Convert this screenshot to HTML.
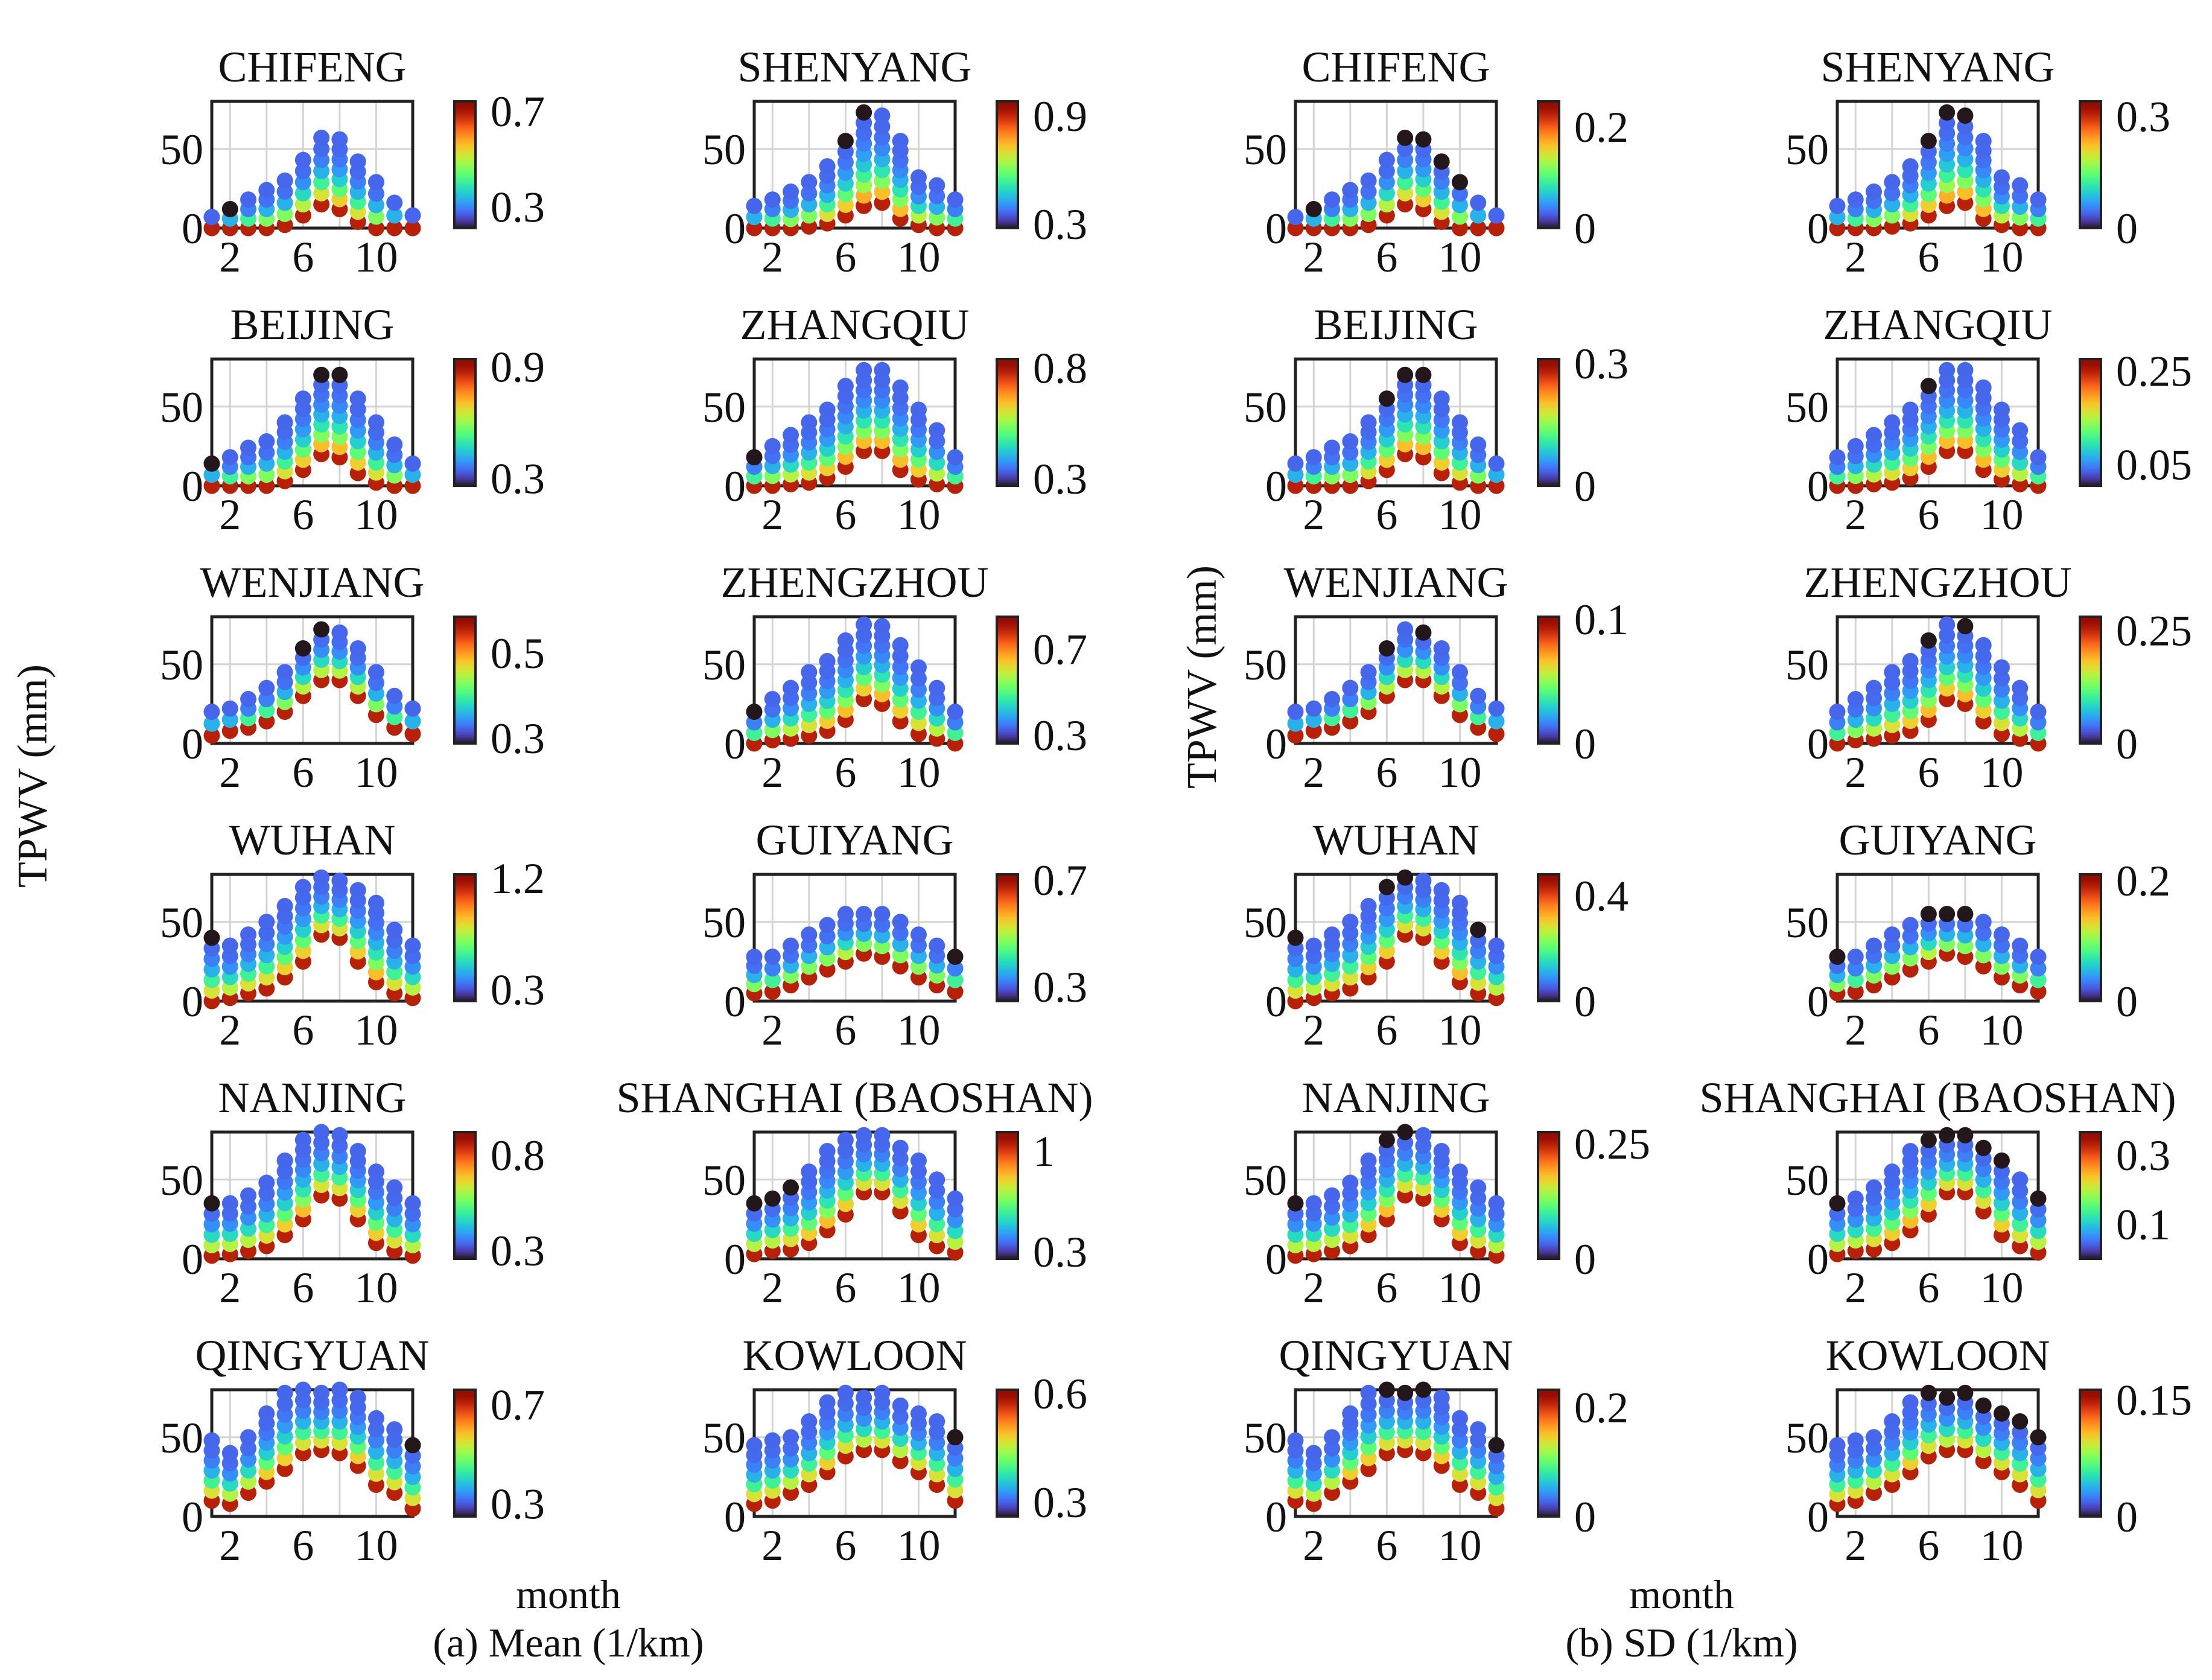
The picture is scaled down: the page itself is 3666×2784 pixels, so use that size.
<!DOCTYPE html>
<html><head><meta charset="utf-8"><style>
html,body{margin:0;padding:0;background:#fff}
svg{display:block}
text{font-family:"Liberation Serif",serif;fill:#111}
</style></head><body>
<svg id="fig" width="3666" height="2784" viewBox="0 0 3666 2784" xmlns="http://www.w3.org/2000/svg">
<g id="panels"></g>
<text x="77" y="1286" font-size="70" text-anchor="middle" transform="rotate(-90 77 1286)">TPWV (mm)</text>
<text x="2015" y="1122" font-size="70" text-anchor="middle" transform="rotate(-90 2015 1122)">TPWV (mm)</text>
<text x="942" y="2665" font-size="68" text-anchor="middle">month</text>
<text x="942" y="2745" font-size="68" text-anchor="middle">(a) Mean (1/km)</text>
<text x="2787" y="2665" font-size="68" text-anchor="middle">month</text>
<text x="2787" y="2745" font-size="68" text-anchor="middle">(b) SD (1/km)</text>
</svg>
<script>
const stations = ["CHIFENG","SHENYANG","BEIJING","ZHANGQIU","WENJIANG","ZHENGZHOU","WUHAN","GUIYANG","NANJING","SHANGHAI (BAOSHAN)","QINGYUAN","KOWLOON"];
const months = [1,2,3,4,5,6,7,8,9,10,11,12];
const tops = [
 [7,12,18,24,30,43,57,56,42,29,16,8],
 [14,18,23,29,39,55,73,71,55,32,27,18],
 [14,18,24,28,40,55,70,70,55,40,26,14],
 [18,25,32,40,48,63,73,73,62,48,35,18],
 [20,22,28,35,45,60,72,70,60,45,30,22],
 [20,28,35,45,52,65,75,74,62,48,35,20],
 [40,35,42,50,60,72,78,76,70,62,45,35],
 [28,28,35,42,48,55,55,55,50,42,35,28],
 [35,35,40,48,62,75,80,78,68,55,45,35],
 [35,38,45,55,68,75,78,78,70,62,50,38],
 [48,40,50,65,78,80,78,80,75,62,55,45],
 [45,48,50,60,72,78,75,78,70,65,60,50]];
const bots = [
 [0,0,0,0,2,8,15,12,4,0,0,0],
 [0,0,0,1,3,8,14,16,6,2,0,0],
 [0,0,0,0,3,10,20,18,8,2,0,0],
 [0,0,1,2,5,12,22,22,10,4,1,0],
 [5,8,10,14,20,30,40,40,30,18,10,6],
 [0,2,3,5,8,15,28,25,14,6,3,0],
 [0,2,5,8,15,25,42,40,25,12,5,2],
 [5,6,10,15,20,25,30,28,22,15,10,6],
 [2,3,5,8,15,25,40,38,25,10,5,2],
 [3,5,6,10,18,28,42,42,30,15,8,4],
 [10,8,15,22,30,40,42,40,32,20,15,5],
 [8,10,15,20,28,38,42,42,35,28,20,10]];
const darkTopA = [[2],[6,7],[1,7,8],[1],[6,7],[1],[1],[12],[1],[1,2,3],[12],[12]];
const darkTopB = [[2,7,8,9,10],[6,7,8],[6,7,8],[6],[6,8],[6,8],[1,6,7,11],[1,6,7,8],[1,6,7],[1,6,7,8,9,10,12],[6,7,8,12],[6,7,8,9,10,11,12]];
const cbRangeA = [[0.21,0.74],[0.276,0.98],[0.26,0.94],[0.267,0.84],[0.287,0.585],[0.26,0.85],[0.206,1.23],[0.246,0.72],[0.255,0.92],[0.25,1.13],[0.248,0.76],[0.26,0.61]];
const cbRangeB = [[0,0.25],[0,0.34],[0,0.31],[0.004,0.275],[0,0.102],[0,0.28],[0,0.48],[0,0.21],[0,0.275],[0,0.366],[0,0.232],[0,0.163]];
const cbTicksA = [["0.3","0.7"],["0.3","0.9"],["0.3","0.9"],["0.3","0.8"],["0.3","0.5"],["0.3","0.7"],["0.3","1.2"],["0.3","0.7"],["0.3","0.8"],["0.3","1"],["0.3","0.7"],["0.3","0.6"]];
const cbTicksB = [["0","0.2"],["0","0.3"],["0","0.3"],["0.05","0.25"],["0","0.1"],["0","0.25"],["0","0.4"],["0","0.2"],["0","0.25"],["0.1","0.3"],["0","0.2"],["0","0.15"]];
const xTicks = [2,6,10];
const yTicks = [0,50];

const NS="http://www.w3.org/2000/svg";
function turbo(t){t=Math.max(0,Math.min(1,t));
 const r=0.13572138+t*(4.6153926+t*(-42.66032258+t*(132.13108234+t*(-152.94239396+t*59.28637943))));
 const g=0.09140261+t*(2.19418839+t*(4.84296658+t*(-14.18503333+t*(4.27729857+t*2.82956604))));
 const b=0.1066733+t*(12.64194608+t*(-60.58204836+t*(110.36276771+t*(-89.90310912+t*27.34824973))));
 const c=v=>Math.round(255*Math.max(0,Math.min(1,v)));
 return `rgb(${c(r)},${c(g)},${c(b)})`;}
function mk(tag,attrs,parent){const e=document.createElementNS(NS,tag);for(const k in attrs)e.setAttribute(k,attrs[k]);parent.appendChild(e);return e;}
const root=document.getElementById('panels');
const defs=mk('defs',{},root);
const grad=mk('linearGradient',{id:'turbo',x1:0,y1:1,x2:0,y2:0},defs);
for(let i=0;i<=20;i++){mk('stop',{offset:i/20,'stop-color':turbo(i/20)},grad);}
const colX=[351,1250,2147,3045];
const W=333,H=210,YMAX=80;
for(let c=0;c<4;c++){for(let r=0;r<6;r++){
 const si=(c%2)+2*r, isB=c>=2;
 const L=colX[c], T=168+427*r, B=T+H;
 const xs=m=>L+(m-1)/11*W, ys=v=>B-v/YMAX*H;
 const g=mk('g',{},root);
 
 
 const title=mk('text',{x:L+W/2,y:T-33,'font-size':72,'text-anchor':'middle'},g);
 title.textContent=stations[si];
 
 
 xTicks.forEach(m=>{const l=mk('line',{x1:xs(m),x2:xs(m),y1:T,y2:B,stroke:'#d4d4d4','stroke-width':3},g);
  });
 [4,8].forEach(m=>{const l=mk('line',{x1:xs(m),x2:xs(m),y1:T,y2:B,stroke:'#d4d4d4','stroke-width':3},g);
  });
 const hl=mk('line',{x1:L,x2:L+W,y1:ys(50),y2:ys(50),stroke:'#d4d4d4','stroke-width':3},g);
 
 const box=mk('rect',{x:L,y:T,width:W,height:H,fill:'none',stroke:'#222','stroke-width':5},g);
 
 const dark=isB?darkTopB[si]:darkTopA[si];
 months.forEach((m,i)=>{
  const lo=bots[si][i], hi=tops[si][i];
  const n=Math.max(1,Math.round((hi-lo)/6.5));
  for(let k=0;k<=n;k++){
   const v=lo+(hi-lo)*k/n, f=k/n;
   let t=0.12+0.78*Math.pow(1-f,2.8);
   if(k===n&&dark.indexOf(m)>=0)t=0.0;
   const d=mk('circle',{cx:xs(m),cy:ys(v),r:13.5,fill:turbo(t)},g);
   
   
  }});
 yTicks.forEach(v=>{const t=mk('text',{x:L-14,y:ys(v)+25,'font-size':72,'text-anchor':'end'},g);t.textContent=v;
  });
 xTicks.forEach(v=>{const t=mk('text',{x:xs(v),y:B+72,'font-size':72,'text-anchor':'middle'},g);t.textContent=v;
  });
 const cbx=L+402;
 const cb=mk('rect',{x:cbx,y:T,width:35,height:H,fill:'url(#turbo)',stroke:'#222','stroke-width':4},g);
 
 const rng=isB?cbRangeB[si]:cbRangeA[si], tk=isB?cbTicksB[si]:cbTicksA[si];
 tk.forEach(s=>{const v=parseFloat(s);const yy=B-(v-rng[0])/(rng[1]-rng[0])*H;
  const t=mk('text',{x:cbx+60,y:yy+25,'font-size':72},g);t.textContent=s;
  });
}}
</script>
</body></html>
